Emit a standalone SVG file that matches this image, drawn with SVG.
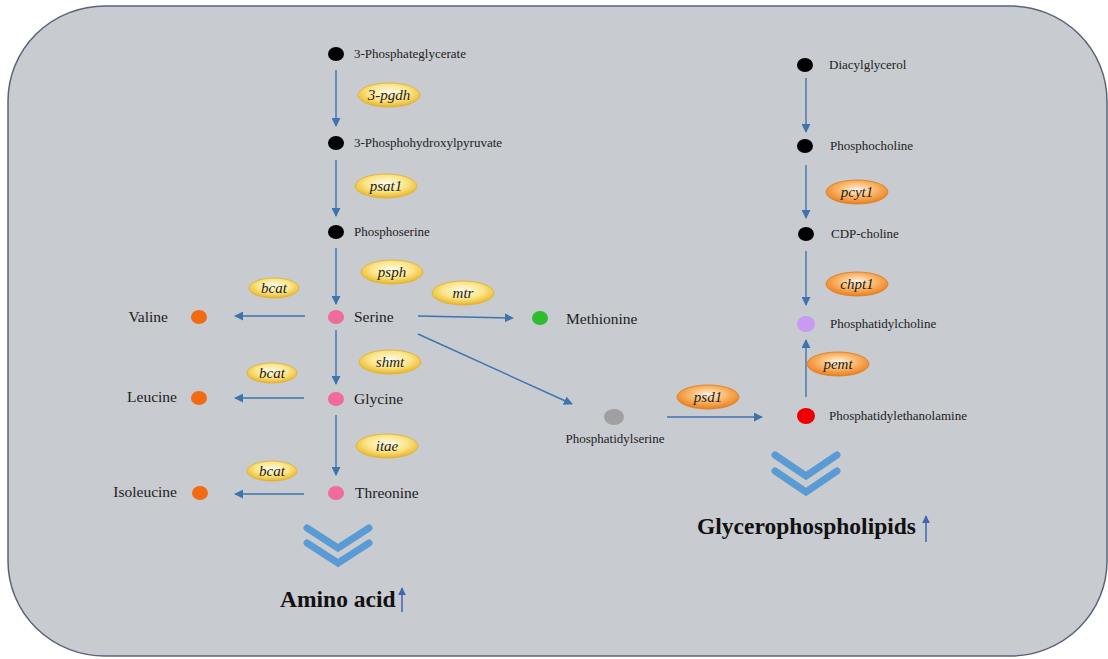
<svg xmlns="http://www.w3.org/2000/svg" width="1108" height="659" viewBox="0 0 1108 659">
<defs>
<radialGradient id="gy" cx="0.5" cy="0.4" r="0.6">
<stop offset="0" stop-color="#fffbe8"/>
<stop offset="0.55" stop-color="#fbe58a"/>
<stop offset="1" stop-color="#e8b424"/>
</radialGradient>
<radialGradient id="go" cx="0.5" cy="0.4" r="0.6">
<stop offset="0" stop-color="#fff3e6"/>
<stop offset="0.5" stop-color="#f9b76a"/>
<stop offset="1" stop-color="#ea7d1c"/>
</radialGradient>
<marker id="ah" viewBox="0 0 10 10" refX="9" refY="5" markerWidth="9" markerHeight="9" markerUnits="userSpaceOnUse" orient="auto">
<path d="M0,0 L10,5 L0,10 z" fill="#3d74ad"/>
</marker>
<marker id="ah2" viewBox="0 0 10 10" refX="9" refY="5" markerWidth="8" markerHeight="8" markerUnits="userSpaceOnUse" orient="auto">
<path d="M0,0 L10,5 L0,10 z" fill="#4164b4"/>
</marker>
</defs>
<style>
.lbl{font-family:"Liberation Serif",serif;fill:#222;}
.s{font-size:13px;}
.m{font-size:15.5px;}
.enz{font-family:"Liberation Serif",serif;font-style:italic;font-size:15px;fill:#222;text-anchor:middle;}
.ey{fill:url(#gy);stroke:#e0b030;stroke-width:0.8;}
.eo{fill:url(#go);stroke:#e07a1a;stroke-width:0.8;}
.con line{stroke:#3d74ad;stroke-width:1.4;marker-end:url(#ah);}
.chev{fill:none;stroke:#5b9bd5;stroke-width:7;stroke-linejoin:miter;stroke-linecap:round;}
.big{font-family:"Liberation Serif",serif;font-weight:bold;font-size:23.5px;fill:#111;}
</style>
<rect x="8" y="6" width="1099" height="650" rx="97" ry="95" fill="#c8cbd0" stroke="#5a6378" stroke-width="1.5"/>

<g id="connectors" class="con">
<line x1="336" y1="70" x2="336" y2="126"/>
<line x1="336" y1="160" x2="336" y2="216"/>
<line x1="336" y1="248" x2="336" y2="304"/>
<line x1="305" y1="316" x2="235" y2="316"/>
<line x1="418" y1="316" x2="513" y2="318"/>
<line x1="418" y1="334" x2="572" y2="404"/>
<line x1="336" y1="330" x2="336" y2="384"/>
<line x1="304" y1="398" x2="235" y2="398"/>
<line x1="336" y1="415" x2="336" y2="475"/>
<line x1="304" y1="494" x2="235" y2="494"/>
<line x1="667" y1="417" x2="762" y2="417"/>
<line x1="806" y1="397" x2="806" y2="340"/>
<line x1="806" y1="78" x2="806" y2="132"/>
<line x1="806" y1="165" x2="806" y2="218"/>
<line x1="806" y1="251" x2="806" y2="305"/>
</g>

<g id="n-3pg"><ellipse cx="336" cy="54" rx="8" ry="7" fill="#000"/><text class="lbl s" x="354" y="58">3-Phosphateglycerate</text></g>
<g id="e-3pgdh"><ellipse class="ey" cx="389" cy="95" rx="31" ry="12"/><text class="enz" x="389" y="100">3-pgdh</text></g>
<g id="n-3php"><ellipse cx="336" cy="143" rx="8" ry="7" fill="#000"/><text class="lbl s" x="354" y="147">3-Phosphohydroxylpyruvate</text></g>
<g id="e-psat1"><ellipse class="ey" cx="386" cy="186" rx="31" ry="12"/><text class="enz" x="386" y="191">psat1</text></g>
<g id="n-pser"><ellipse cx="336" cy="232" rx="8" ry="7" fill="#000"/><text class="lbl s" x="354" y="236">Phosphoserine</text></g>
<g id="e-psph"><ellipse class="ey" cx="392" cy="272" rx="31" ry="12"/><text class="enz" x="392" y="277">psph</text></g>
<g id="n-serine"><ellipse cx="336" cy="317" rx="8" ry="7" fill="#f06a9a"/><text class="lbl m" x="354" y="322">Serine</text></g>
<g id="e-bcat1"><ellipse class="ey" cx="274" cy="288" rx="25" ry="10"/><text class="enz" x="274" y="293">bcat</text></g>
<g id="n-valine"><ellipse cx="199" cy="317" rx="8" ry="7" fill="#f26b10"/><text class="lbl m" x="168" y="322" text-anchor="end">Valine</text></g>
<g id="e-mtr"><ellipse class="ey" cx="463" cy="293" rx="31" ry="12"/><text class="enz" x="463" y="298">mtr</text></g>
<g id="n-methionine"><ellipse cx="540" cy="318" rx="8" ry="7" fill="#2ebd2e"/><text class="lbl m" x="566" y="324">Methionine</text></g>
<g id="e-shmt"><ellipse class="ey" cx="390" cy="362" rx="31" ry="12"/><text class="enz" x="390" y="367">shmt</text></g>
<g id="n-glycine"><ellipse cx="336" cy="399" rx="8" ry="7" fill="#f06a9a"/><text class="lbl m" x="354" y="404">Glycine</text></g>
<g id="e-bcat2"><ellipse class="ey" cx="272" cy="373" rx="25" ry="10"/><text class="enz" x="272" y="378">bcat</text></g>
<g id="n-leucine"><ellipse cx="199" cy="398" rx="8" ry="7" fill="#f26b10"/><text class="lbl m" x="177" y="402" text-anchor="end">Leucine</text></g>
<g id="e-itae"><ellipse class="ey" cx="387" cy="446" rx="31" ry="12"/><text class="enz" x="387" y="451">itae</text></g>
<g id="n-threonine"><ellipse cx="336" cy="493" rx="8" ry="7" fill="#f06a9a"/><text class="lbl m" x="355" y="498">Threonine</text></g>
<g id="e-bcat3"><ellipse class="ey" cx="272" cy="471" rx="25" ry="10"/><text class="enz" x="272" y="476">bcat</text></g>
<g id="n-isoleucine"><ellipse cx="200" cy="493" rx="8" ry="7" fill="#f26b10"/><text class="lbl m" x="177" y="497" text-anchor="end">Isoleucine</text></g>

<g id="amino-acid">
<polyline class="chev" points="307,528 338,548 369,528"/>
<polyline class="chev" points="307,543 338,563 369,543"/>
<text class="big" x="280" y="607">Amino acid</text>
<line x1="402" y1="612" x2="402" y2="588" stroke="#4164b4" stroke-width="1.5" marker-end="url(#ah2)"/>
</g>

<g id="n-pserine"><ellipse cx="614" cy="417" rx="10" ry="8" fill="#a0a0a0"/><text class="lbl s" x="615" y="443" text-anchor="middle">Phosphatidylserine</text></g>
<g id="e-psd1"><ellipse class="eo" cx="708" cy="397" rx="31" ry="12"/><text class="enz" x="708" y="402">psd1</text></g>
<g id="n-pe"><ellipse cx="806" cy="416" rx="9" ry="8" fill="#ee0000"/><text class="lbl s" x="829" y="420">Phosphatidylethanolamine</text></g>
<g id="e-pemt"><ellipse class="eo" cx="838" cy="364" rx="31" ry="12"/><text class="enz" x="838" y="369">pemt</text></g>
<g id="n-dag"><ellipse cx="805" cy="65" rx="8" ry="7" fill="#000"/><text class="lbl s" x="829" y="69">Diacylglycerol</text></g>
<g id="n-pcho"><ellipse cx="805" cy="146" rx="8" ry="7" fill="#000"/><text class="lbl s" x="830" y="150">Phosphocholine</text></g>
<g id="e-pcyt1"><ellipse class="eo" cx="857" cy="192" rx="31" ry="12"/><text class="enz" x="857" y="197">pcyt1</text></g>
<g id="n-cdp"><ellipse cx="806" cy="234" rx="8" ry="7" fill="#000"/><text class="lbl s" x="831" y="238">CDP-choline</text></g>
<g id="e-chpt1"><ellipse class="eo" cx="857" cy="284" rx="31" ry="12"/><text class="enz" x="857" y="289">chpt1</text></g>
<g id="n-pc"><ellipse cx="806" cy="324" rx="9" ry="8" fill="#c79bf2"/><text class="lbl s" x="830" y="328">Phosphatidylcholine</text></g>

<g id="glycerophospholipids">
<polyline class="chev" points="775,455 806,476 837,455"/>
<polyline class="chev" points="775,471 806,492 837,471"/>
<text class="big" x="697" y="534">Glycerophospholipids</text>
<line x1="926" y1="542" x2="926" y2="516" stroke="#4164b4" stroke-width="1.5" marker-end="url(#ah2)"/>
</g>
</svg>
